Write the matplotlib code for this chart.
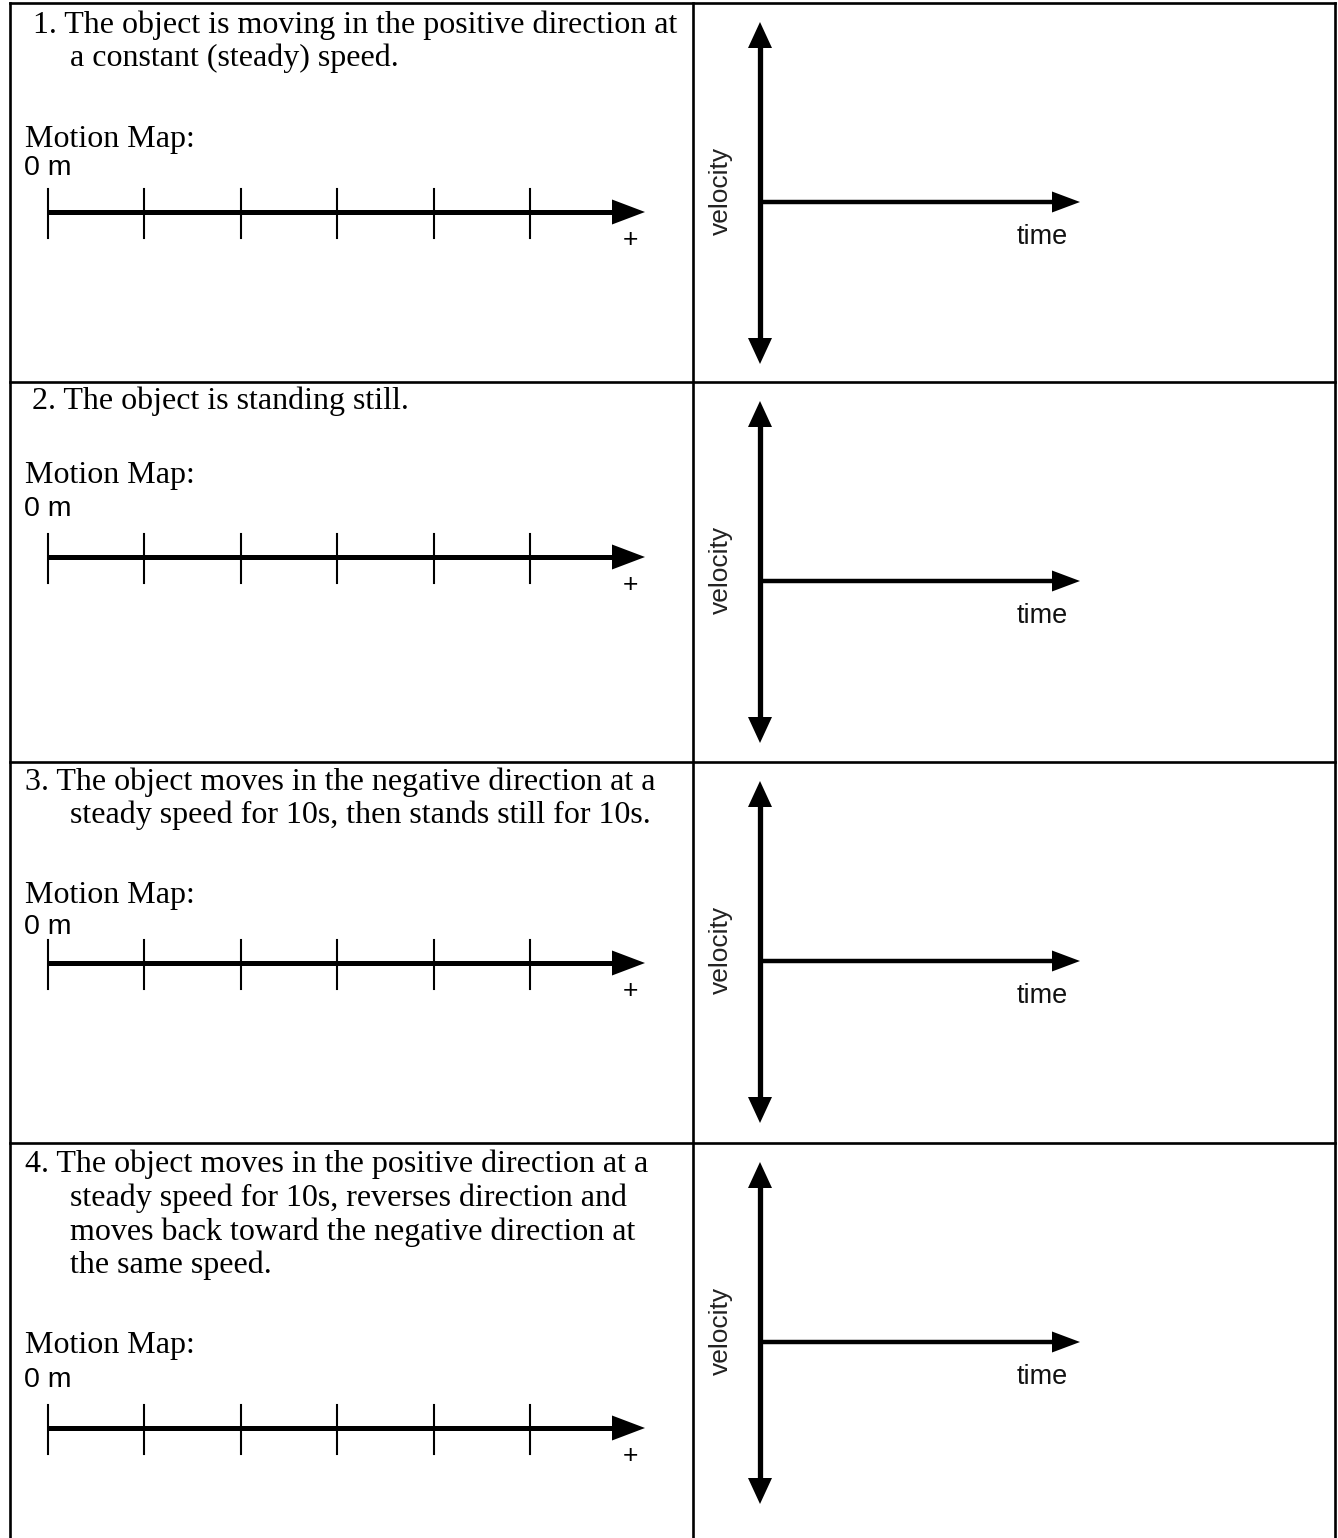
"""Worksheet page: motion maps and blank velocity-time axes, four prompts."""

import matplotlib
matplotlib.use("Agg")
import matplotlib.pyplot as plt

W, H, DPI = 1338, 1538, 100

# ---- content -----------------------------------------------------------------
PROMPTS = [
    ["1. The object is moving in the positive direction at",
     "a constant (steady) speed."],
    ["2. The object is standing still."],
    ["3. The object moves in the negative direction at a",
     "steady speed for 10s, then stands still for 10s."],
    ["4. The object moves in the positive direction at a",
     "steady speed for 10s, reverses direction and",
     "moves back toward the negative direction at",
     "the same speed."],
]
MAP_LABEL = "Motion Map:"
ORIGIN_LABEL = "0 m"
PLUS_LABEL = "+"
V_LABEL = "velocity"
T_LABEL = "time"
N_TICKS = 6

# ---- layout (pixels, y down) -------------------------------------------------
BORDER_X = (10, 693, 1335)
ROW_TOPS = [3, 382, 762, 1143]
PROMPT_X = [33, 32, 25, 25]
INDENT_X = 70
LINE_Y = [[25, 58], [401], [782, 815], [1164, 1198, 1232, 1265]]
MAP_Y = [139, 475, 895, 1346]
ORIGIN_Y = [168, 509, 927, 1380]
AXIS_Y = [212, 557, 963, 1428]

SERIF = ["Liberation Serif", "DejaVu Serif"]
SANS = ["Liberation Sans", "DejaVu Sans"]


def head(ax, tip, dx, dy, length, half):
    """Filled triangular arrow head pointing along (dx, dy)."""
    tx, ty = tip
    bx, by = tx - dx * length, ty - dy * length
    px, py = -dy * half, dx * half
    ax.fill([tx, bx + px, bx - px], [ty, by + py, by - py], color="k", lw=0)


fig = plt.figure(figsize=(W / DPI, H / DPI), dpi=DPI)
ax = fig.add_axes([0, 0, 1, 1])
ax.set_xlim(0, W)
ax.set_ylim(H, 0)
ax.axis("off")

# table rules
bw = 1.9
ax.plot([BORDER_X[0], BORDER_X[2]], [ROW_TOPS[0]] * 2, color="k", lw=bw)
for y in ROW_TOPS[1:]:
    ax.plot([BORDER_X[0], BORDER_X[2]], [y, y], color="k", lw=bw)
for x in BORDER_X:
    ax.plot([x, x], [ROW_TOPS[0], H], color="k", lw=bw)

for i, lines in enumerate(PROMPTS):
    top = ROW_TOPS[i]
    for j, line in enumerate(lines):
        ax.text(PROMPT_X[i] if j == 0 else INDENT_X, LINE_Y[i][j], line,
                family=SERIF, fontsize=23, va="center", ha="left")
    ax.text(25, MAP_Y[i], MAP_LABEL, family=SERIF, fontsize=23, va="center")
    ax.text(24, ORIGIN_Y[i], ORIGIN_LABEL, family=SANS, fontsize=20.5, va="center")

    # motion map number line
    y = AXIS_Y[i]
    ax.plot([48, 614], [y, y], color="k", lw=3.6, solid_capstyle="butt")
    head(ax, (645, y), 1, 0, 33, 12.5)
    for k in range(N_TICKS):
        x = 48 + k * 96.4
        ax.plot([x, x], [y - 23, y + 26], color="k", lw=1.5)
    ax.text(630, y + 28, PLUS_LABEL, family=SANS, fontsize=19,
            ha="center", va="center")

    # blank velocity-time axes
    vx = 760
    ax.plot([vx, vx], [top + 44, top + 336], color="k", lw=3.8,
            solid_capstyle="butt")
    head(ax, (vx, top + 19), 0, -1, 26, 12)
    head(ax, (vx, top + 361), 0, 1, 26, 12)
    hy = top + 199
    ax.plot([vx, 1054], [hy, hy], color="k", lw=3.2, solid_capstyle="butt")
    head(ax, (1080, hy), 1, 0, 28, 10.5)
    ax.text(1042, top + 234, T_LABEL, family=SANS, fontsize=19.5,
            ha="center", va="center", color="#111111")
    ax.text(721, top + 188, V_LABEL, family=SANS, fontsize=19, rotation=90,
            ha="center", va="center", color="#222222")

fig.savefig("out.png", dpi=DPI)
plt.close(fig)
